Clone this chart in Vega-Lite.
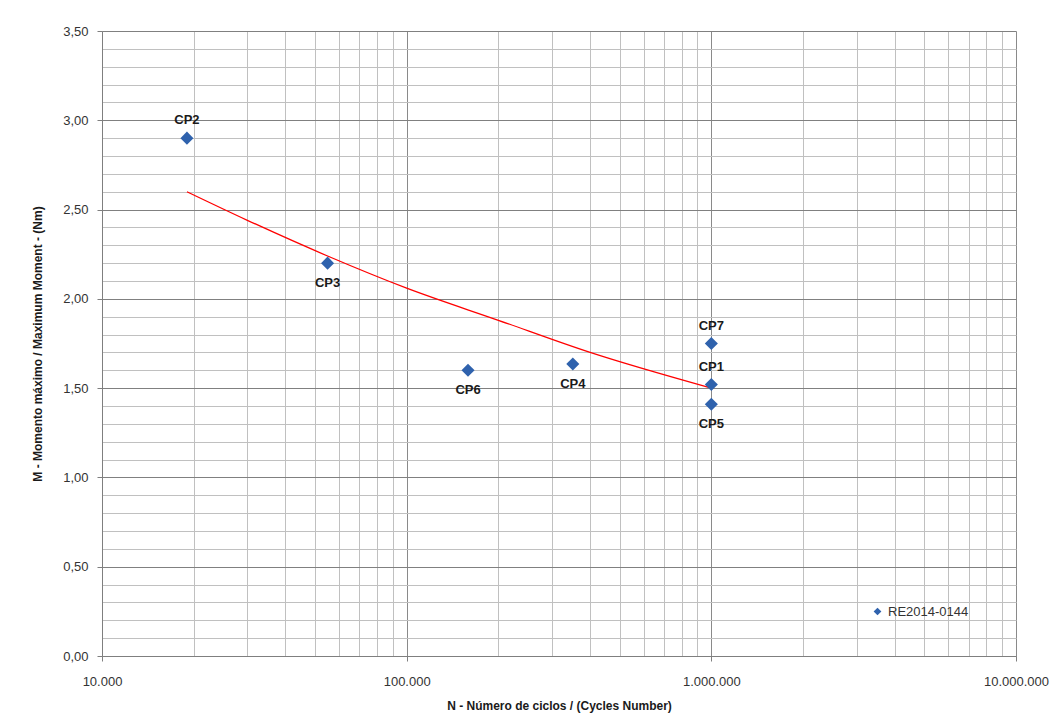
{
  "$schema": "https://vega.github.io/schema/vega-lite/v6.json",
  "width": 914,
  "height": 625,
  "autosize": {"type": "none"},
  "padding": {"left": 102, "top": 31, "right": 40, "bottom": 71},
  "background": "white",
  "config": {
    "locale": {"number": {"decimal": ",", "thousands": ".", "grouping": [3], "currency": ["", " €"]}},
    "font": "Liberation Sans",
    "view": {"stroke": null}
  },
  "datasets": {
    "points": [
      {"id": "CP2", "N": 19000, "M": 2.90, "serie": "RE2014-0144"},
      {"id": "CP3", "N": 55000, "M": 2.20, "serie": "RE2014-0144"},
      {"id": "CP6", "N": 159000, "M": 1.60, "serie": "RE2014-0144"},
      {"id": "CP4", "N": 351000, "M": 1.635, "serie": "RE2014-0144"},
      {"id": "CP7", "N": 1000000, "M": 1.75, "serie": "RE2014-0144"},
      {"id": "CP1", "N": 1000000, "M": 1.52, "serie": "RE2014-0144"},
      {"id": "CP5", "N": 1000000, "M": 1.41, "serie": "RE2014-0144"}
    ],
    "trend": [
      {"N": 19000, "M": 2.60},
      {"N": 30000, "M": 2.44},
      {"N": 55000, "M": 2.24},
      {"N": 100000, "M": 2.06},
      {"N": 200000, "M": 1.88},
      {"N": 400000, "M": 1.70},
      {"N": 1000000, "M": 1.50}
    ]
  },
  "encoding": {
    "x": {
      "field": "N", "type": "quantitative",
      "scale": {"type": "log", "domain": [10000, 10000000], "nice": false},
      "axis": {
        "title": "N - Número de ciclos / (Cycles Number)",
        "titleFont": "Liberation Sans", "titleFontSize": 12, "titleFontWeight": "bold", "titleColor": "#1a1a1a",
        "titlePadding": 12,
        "values": [10000,20000,30000,40000,50000,60000,70000,80000,90000,100000,200000,300000,400000,500000,600000,700000,800000,900000,1000000,2000000,3000000,4000000,5000000,6000000,7000000,8000000,9000000,10000000],
        "format": ",d",
        "labelExpr": "indexof([10000,100000,1000000,10000000], datum.value) >= 0 ? datum.label : ''",
        "labelFontSize": 13, "labelColor": "#333333", "labelPadding": 14, "labelFlush": false, "labelOverlap": false,
        "grid": true,
        "gridColor": {"condition": {"test": "indexof([10000,100000,1000000,10000000], datum.value) >= 0", "value": "#8a8a8a"}, "value": "#c0c0c0"},
        "gridWidth": 1,
        "tickSize": 5,
        "tickColor": {"condition": {"test": "indexof([10000,100000,1000000,10000000], datum.value) >= 0", "value": "#7f7f7f"}, "value": "transparent"},
        "domainColor": "#7f7f7f"
      }
    },
    "y": {
      "field": "M", "type": "quantitative",
      "scale": {"domain": [0, 3.5], "nice": false, "zero": true},
      "axis": {
        "title": "M - Momento máximo / Maximum Moment - (Nm)",
        "titleFont": "Liberation Sans", "titleFontSize": 12, "titleFontWeight": "bold", "titleColor": "#1a1a1a",
        "titlePadding": 18,
        "values": [0,0.1,0.2,0.3,0.4,0.5,0.6,0.7,0.8,0.9,1,1.1,1.2,1.3,1.4,1.5,1.6,1.7,1.8,1.9,2,2.1,2.2,2.3,2.4,2.5,2.6,2.7,2.8,2.9,3,3.1,3.2,3.3,3.4,3.5],
        "format": ".2f",
        "labelExpr": "abs(datum.value*2 - round(datum.value*2)) < 0.001 ? datum.label : ''",
        "labelFontSize": 13, "labelColor": "#333333", "labelPadding": 9, "labelFlush": false, "labelOverlap": false,
        "grid": true,
        "gridColor": {"condition": {"test": "abs(datum.value*2 - round(datum.value*2)) < 0.001", "value": "#808080"}, "value": "#c0c0c0"},
        "tickSize": 5,
        "tickColor": {"condition": {"test": "abs(datum.value*2 - round(datum.value*2)) < 0.001", "value": "#7f7f7f"}, "value": "transparent"},
        "domainColor": "#7f7f7f"
      }
    }
  },
  "layer": [
    {
      "data": {"name": "trend"},
      "mark": {"type": "line", "color": "#ff0000", "strokeWidth": 1.3, "interpolate": "monotone"},
      "encoding": {}
    },
    {
      "data": {"name": "points"},
      "mark": {"type": "point", "shape": "diamond", "filled": true, "opacity": 1, "size": 170},
      "encoding": {
        "color": {
          "field": "serie", "type": "nominal",
          "scale": {"range": ["#2f62ad"]},
          "legend": {
            "title": null, "orient": "none", "legendX": 769, "legendY": 574,
            "symbolType": "diamond", "symbolSize": 60, "labelFontSize": 13, "labelColor": "#333333",
            "labelFont": "Liberation Sans"
          }
        }
      }
    },
    {
      "data": {"name": "points"},
      "transform": [{"filter": "indexof(['CP2','CP7','CP1'], datum.id) >= 0"}],
      "mark": {"type": "text", "fontWeight": "bold", "fontSize": 13, "color": "#1a1a1a", "dy": -18, "baseline": "middle"},
      "encoding": {"text": {"field": "id"}}
    },
    {
      "data": {"name": "points"},
      "transform": [{"filter": "indexof(['CP3','CP6','CP4','CP5'], datum.id) >= 0"}],
      "mark": {"type": "text", "fontWeight": "bold", "fontSize": 13, "color": "#1a1a1a", "dy": 20, "baseline": "middle"},
      "encoding": {"text": {"field": "id"}}
    }
  ]
}
